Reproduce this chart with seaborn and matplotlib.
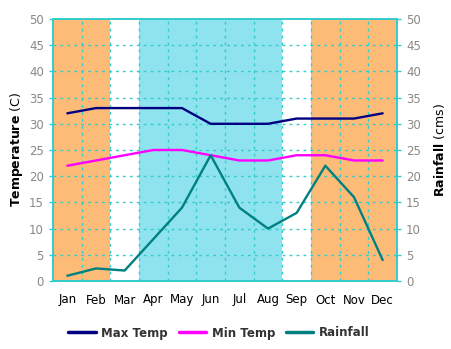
import matplotlib
matplotlib.use("Agg")
import matplotlib.pyplot as plt
import seaborn as sns
import pandas as pd
import numpy as np

months = ["Jan", "Feb", "Mar", "Apr", "May", "Jun",
          "Jul", "Aug", "Sep", "Oct", "Nov", "Dec"]
max_temp = [32, 33, 33, 33, 33, 30, 30, 30, 31, 31, 31, 32]
min_temp = [22, 23, 24, 25, 25, 24, 23, 23, 24, 24, 23, 23]
rainfall = [1, 2.4, 2.0, 8, 14, 24, 14, 10, 13, 22, 16, 4]
y_ticks = [0, 5, 10, 15, 20, 25, 30, 35, 40, 45, 50]

# seasonal bands: (first month, last month, colour)
seasons = [("Jan", "Feb", "#FDBB78"),
           ("Apr", "Aug", "#8EE3EF"),
           ("Oct", "Dec", "#FDBB78")]

df = pd.DataFrame({"pos": np.arange(len(months)),
                   "Max Temp": max_temp,
                   "Min Temp": min_temp,
                   "Rainfall": rainfall})

sns.set_style("white")
plt.rcParams["font.family"] = ["DejaVu Sans"]

edge = "#33CCCC"
fig = plt.figure(figsize=(4.51, 3.49), dpi=100)
ax = fig.add_axes([53 / 451, 1 - 281 / 349, 344 / 451, 262 / 349])
ax2 = ax.twinx()

for start, end, col in seasons:
    ax.axvspan(months.index(start) - 0.5, months.index(end) + 0.5,
               color=col, lw=0, zorder=0)

lw = 1.7
sns.lineplot(data=df, x="pos", y="Max Temp", ax=ax, color="#000080",
             lw=lw, label="Max Temp", legend=False)
sns.lineplot(data=df, x="pos", y="Min Temp", ax=ax, color="#FF00FF",
             lw=lw, label="Min Temp", legend=False)
sns.lineplot(data=df, x="pos", y="Rainfall", ax=ax2, color="#008080",
             lw=lw, label="Rainfall", legend=False)

for a in (ax, ax2):
    a.set_ylim(0, 50)
    a.set_yticks(y_ticks)
    a.set_xlim(-0.5, len(months) - 0.5)
    for s in a.spines.values():
        s.set_color(edge)
        s.set_linewidth(1.2)
    a.tick_params(axis="y", colors=edge, labelcolor="#888888",
                  labelsize=8.5, length=3, width=1)

ax.set_xticks(np.arange(len(months)))
ax.set_xticklabels(months)
ax.set_xticks(np.arange(len(months) + 1) - 0.5, minor=True)
ax.tick_params(axis="x", which="major", length=0, labelsize=8.5,
               labelcolor="black", pad=9)
ax.tick_params(axis="x", which="minor", length=5, width=1, color=edge,
               direction="out")

# dotted grid on category boundaries and y ticks
ax.grid(False)
ax2.grid(False)
for b in np.arange(1, len(months)):
    ax.axvline(b - 0.5, color=edge, lw=1, ls=(0, (2, 3)), zorder=1)
for t in y_ticks[1:-1]:
    ax.axhline(t, color=edge, lw=1, ls=(0, (2, 3)), zorder=1)

ax.set_xlabel("")
ax.set_ylabel(r"$\bf{Temperature}$ (C)", fontsize=9, color="black", labelpad=3)
ax2.set_ylabel(r"$\bf{Rainfall}$ (cms)", fontsize=9, color="black", labelpad=8)

ax.set_zorder(ax2.get_zorder() - 1)
ax2.patch.set_visible(False)

h1, l1 = ax.get_legend_handles_labels()
h2, l2 = ax2.get_legend_handles_labels()
leg = fig.legend(h1 + h2, l1 + l2, loc="center", ncol=3,
                 bbox_to_anchor=(219 / 451, 1 - 333 / 349), frameon=False,
                 prop={"weight": "bold", "size": 8.5}, handlelength=2.3,
                 columnspacing=0.9, handletextpad=0.5)
for t in leg.get_texts():
    t.set_color("#333333")
for h in leg.legend_handles:
    h.set_linewidth(2.5)

fig.savefig("out.png", dpi=100)
